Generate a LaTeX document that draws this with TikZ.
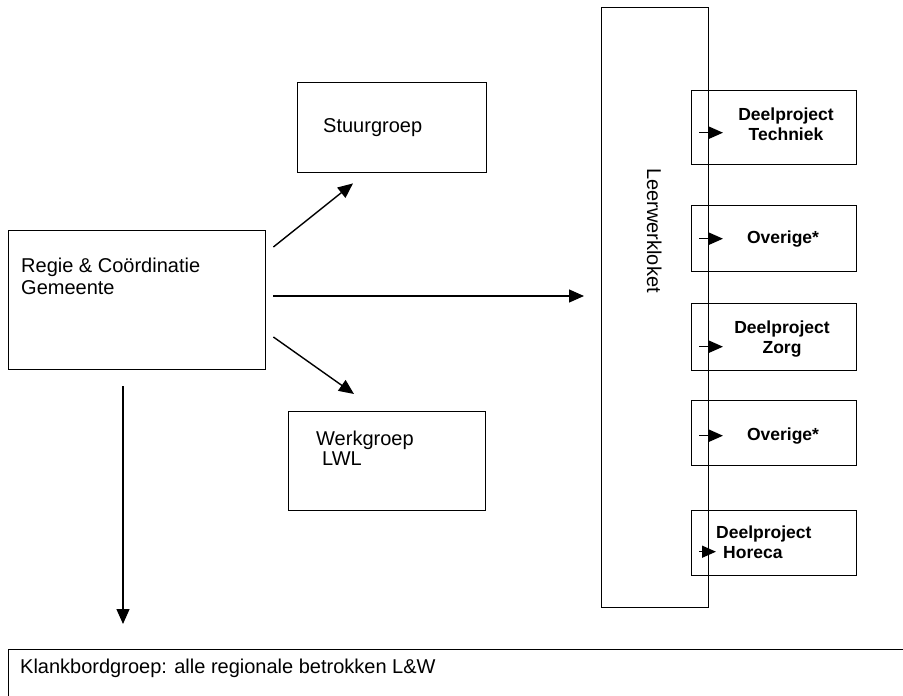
\documentclass[tikz,border=0pt]{standalone}
\usepackage{fontspec}
\setmainfont{Liberation Sans}
\usetikzlibrary{arrows.meta,calc}
\tikzset{
  box/.style={draw, line width=1.4pt, inner sep=0pt, anchor=north west},
  txt/.style={inner sep=0pt, anchor=base west, font=\fontsize{20}{22}\selectfont},
  bold/.style={inner sep=0pt, anchor=base, font=\fontsize{17.5}{20}\selectfont\bfseries},
  arr/.style={line width=1.4pt, -{Triangle[length=15pt,width=13pt]}},
  sarr/.style={line width=1.4pt, -{Triangle[length=14pt,width=12pt]}}
}
\begin{document}
\begin{tikzpicture}[x=1pt,y=-1pt]
\useasboundingbox (0,0) rectangle (903,696);
% boxes
\node[box, minimum width=257pt, minimum height=139pt] (regie) at (8,230) {};
\node[box, minimum width=189pt, minimum height=90pt] (stuur) at (297,82) {};
\node[box, minimum width=197pt, minimum height=99pt] (werk) at (288,411) {};
\node[box, minimum width=107pt, minimum height=600pt] (loket) at (601,7) {};
\node[box, minimum width=165pt, minimum height=74pt] (tech) at (691,90) {};
\node[box, minimum width=165pt, minimum height=66pt] (ov1) at (691,205) {};
\node[box, minimum width=165pt, minimum height=67pt] (zorg) at (691,303) {};
\node[box, minimum width=165pt, minimum height=65pt] (ov2) at (691,400) {};
\node[box, minimum width=165pt, minimum height=65pt] (horeca) at (691,510) {};
\node[box, minimum width=960pt, minimum height=100pt] (klank) at (8,649) {};
% texts
\node[txt] (regieT) at (21,272) {\parbox[t]{230pt}{\baselineskip=22pt Regie \& Coördinatie\\Gemeente}};
\node[txt] (stuurT) at (323,132) {Stuurgroep};
\node[txt] (werkT) at (316,445) {\parbox[t]{150pt}{\baselineskip=20pt Werkgroep\\\hspace*{6pt}LWL}};
\node[txt, rotate=-90] (loketT) at (647,168) {Leerwerkloket};
\node[bold] (techT) at (786,120) {\begin{tabular}[t]{@{}c@{}}Deelproject\\Techniek\end{tabular}};
\node[bold] (ov1T) at (783,243) {Overige*};
\node[bold] (zorgT) at (782,333) {\begin{tabular}[t]{@{}c@{}}Deelproject\\Zorg\end{tabular}};
\node[bold] (ov2T) at (783,440) {Overige*};
\node[bold, anchor=base west] (horecaT) at (716,538) {\begin{tabular}[t]{@{}l@{}}Deelproject\\\hspace*{7pt}Horeca\end{tabular}};
\node[txt] (klankT) at (20,673) {Klankbordgroep: alle regionale betrokken L\&W};
% connectors
\draw[arr] ($(regie.north east)+(7,17)$) -- ($(stuur.south west)+(56,10)$);
\draw[arr] ($(regie.north east)+(7,66)$) -- ($(loket.north west)+(-17,289)$);
\draw[arr] ($(regie.north east)+(7,107)$) -- ($(werk.north west)+(66,-17)$);
\draw[arr] ($(regie.south west)+(115,16)$) -- ($(klank.north west)+(115,-25)$);
% small arrows
\draw[sarr] ($(tech.west)+(8,5)$) -- ($(tech.west)+(32,5)$);
\draw[sarr] ($(ov1.west)+(8,0)$) -- ($(ov1.west)+(32,0)$);
\draw[sarr] ($(zorg.west)+(8,9.5)$) -- ($(zorg.west)+(32,9.5)$);
\draw[sarr] ($(ov2.west)+(8,2.5)$) -- ($(ov2.west)+(32,2.5)$);
\draw[sarr] ($(horeca.west)+(8,8.5)$) -- ($(horeca.west)+(25,8.5)$);
\end{tikzpicture}
\end{document}
